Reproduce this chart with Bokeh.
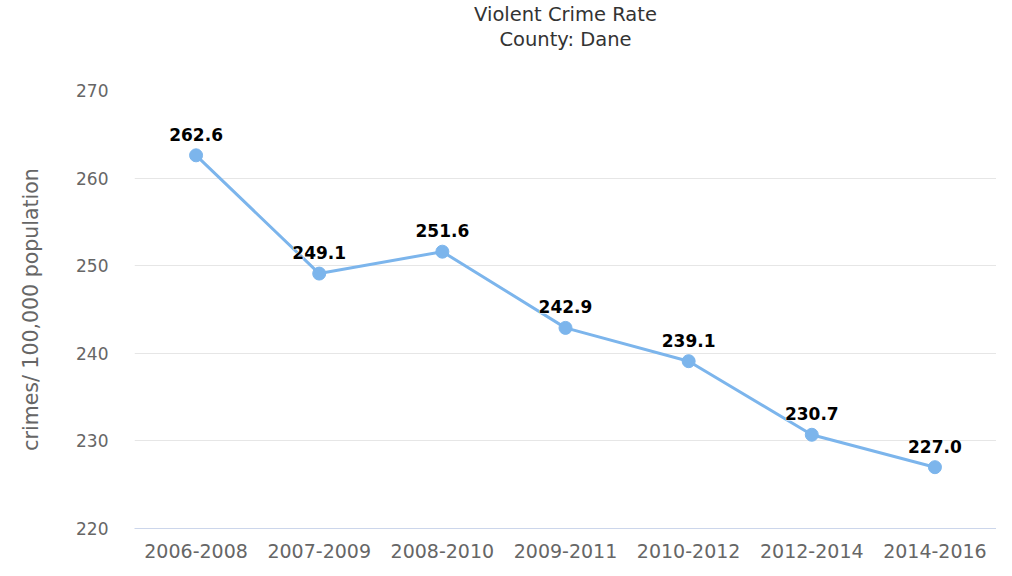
from bokeh.plotting import figure
from bokeh.models import ColumnDataSource, FixedTicker, Title
from bokeh.embed import file_html
from bokeh.resources import INLINE
from bokeh.core.properties import value

categories = ["2006-2008", "2007-2009", "2008-2010", "2009-2011", "2010-2012", "2012-2014", "2014-2016"]
rates = [262.6, 249.1, 251.6, 242.9, 239.1, 230.7, 227.0]
y_ticks = [220, 230, 240, 250, 260, 270]

FONT = "DejaVu Sans"
LINE = "#7cb5ec"

src = ColumnDataSource(dict(x=categories, y=rates, lbl=[f"{v:.1f}" for v in rates]))

p = figure(width=996, height=560, x_range=categories, y_range=(220, 270),
           output_backend="svg", toolbar_location=None,
           min_border_left=134, min_border_right=0, min_border_top=10, min_border_bottom=28)
p.outline_line_color = None
p.background_fill_color = "white"
p.border_fill_color = "white"

p.title = Title(text="Violent Crime Rate", align="center", text_font=FONT, text_font_size="19.5px",
                text_font_style="normal", text_color="#333333", standoff=0, offset=-47)
p.add_layout(Title(text=" ", align="center", text_font=FONT, text_font_size="1px",
                   text_color="white", standoff=36), "above")
p.add_layout(Title(text="County: Dane", align="center", text_font=FONT, text_font_size="19.5px",
                   text_font_style="normal", text_color="#333333", standoff=1, offset=-47), "above")

p.line("x", "y", source=src, line_color=LINE, line_width=3)
p.scatter("x", "y", source=src, size=13, fill_color=LINE, line_color=LINE)
p.text("x", "y", text="lbl", source=src, text_font=value(FONT), text_font_size="17px",
       text_font_style="bold", text_color="white", text_align="center",
       text_baseline="middle", y_offset=-21, text_outline_color="white")
p.text("x", "y", text="lbl", source=src, text_font=value(FONT), text_font_size="17px",
       text_font_style="bold", text_color="#000000", text_align="center",
       text_baseline="middle", y_offset=-21)

p.yaxis.ticker = FixedTicker(ticks=y_ticks)
p.yaxis.axis_line_color = None
p.yaxis.major_tick_line_color = None
p.yaxis.minor_tick_line_color = None
p.yaxis.major_label_text_font = FONT
p.yaxis.major_label_text_font_size = "17px"
p.yaxis.major_label_text_color = "#666666"
p.yaxis.major_label_standoff = 20
p.yaxis.axis_label = "crimes/ 100,000 population"
p.yaxis.axis_label_text_font = FONT
p.yaxis.axis_label_text_font_size = "20.5px"
p.yaxis.axis_label_text_font_style = "normal"
p.yaxis.axis_label_text_color = "#666666"
p.yaxis.axis_label_standoff = 30

p.xaxis.axis_line_color = "#ccd6eb"
p.xaxis.axis_line_width = 1
p.xaxis.major_tick_line_color = None
p.xaxis.minor_tick_line_color = None
p.xaxis.major_label_text_font = FONT
p.xaxis.major_label_text_font_size = "19px"
p.xaxis.major_label_text_color = "#666666"
p.xaxis.major_label_standoff = 9

p.xgrid.grid_line_color = None
p.ygrid.grid_line_color = "#e6e6e6"
p.ygrid.ticker = FixedTicker(ticks=y_ticks)

open("out.html", "w").write(file_html(p, INLINE))
